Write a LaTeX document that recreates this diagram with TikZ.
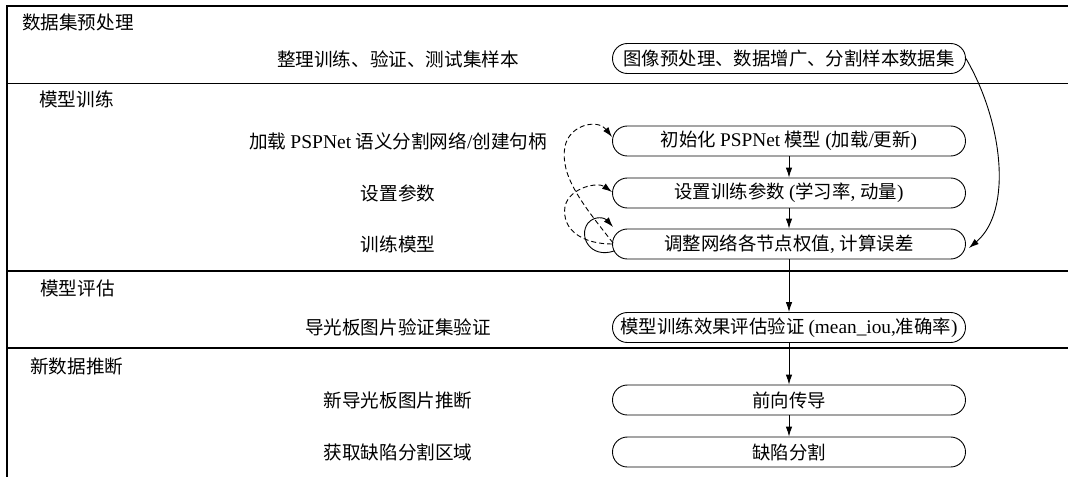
\documentclass[tikz,border=0pt]{standalone}
\usepackage{fontspec}
\setmainfont{Noto Sans CJK SC}
\newfontfamily\enf[Scale=1.05]{Liberation Serif}
\newcommand{\en}[1]{{\enf #1}}
\usetikzlibrary{arrows.meta,calc}
\begin{document}
\begin{tikzpicture}[x=1pt,y=-1pt,
  box/.style={draw, rounded corners=14.9pt, minimum width=353pt, minimum height=30pt, inner sep=0pt, font=\fontsize{18.4}{20}\selectfont, line width=0.9pt},
  lab/.style={font=\fontsize{18.6}{20}\selectfont, inner sep=0pt},
  sep/.style={line width=1.6pt},
  arr/.style={-{Latex[length=10pt,width=6.5pt]}, line width=0.9pt},
  darr/.style={arr, dash pattern=on 5pt off 3pt}]
\useasboundingbox (0,0) rectangle (1068,477);
% swimlane separators
\draw[sep] (7,6) -- (1068,6);
\draw[sep] (7,83.5) -- (1068,83.5);
\draw[sep] (7,271) -- (1068,271);
\draw[sep] (7,348) -- (1068,348);
\draw[sep] (7,5.2) -- (7,477);
% lane headings
\node[lab, anchor=west] (h1) at (22,22) {数据集预处理};
\node[lab, anchor=west] (h2) at (39,99) {模型训练};
\node[lab, anchor=west] (h3) at (40,288) {模型评估};
\node[lab, anchor=west] (h4) at (30,366) {新数据推断};
% step labels
\node[lab] (l1) at (398,59) {整理训练、验证、测试集样本};
\node[lab] (l2) at (398,141) {加载 \en{PSPNet} 语义分割网络\en{/}创建句柄};
\node[lab] (l3) at (398,193) {设置参数};
\node[lab] (l4) at (398,244) {训练模型};
\node[lab] (l5) at (398,327.5) {导光板图片验证集验证};
\node[lab] (l6) at (398,400) {新导光板图片推断};
\node[lab] (l7) at (398,452) {获取缺陷分割区域};
% boxes
\node[box] (b0) at (789,58.5) {图像预处理、数据增广、分割样本数据集};
\node[box] (b1) at (789,141) {初始化 \en{PSPNet} 模型 \en{(}加载\en{/}更新\en{)}};
\node[box] (b2) at (789,193) {设置训练参数 \en{(}学习率\en{, }动量\en{)}};
\node[box] (b3) at (789,244) {调整网络各节点权值\en{, }计算误差};
\node[box] (b4) at (789,327.5) {模型训练效果评估验证 \en{(mean\_iou,}准确率\en{)}};
\node[box] (b5) at (789,400) {前向传导};
\node[box] (b6) at (789,452) {缺陷分割};
% straight arrows
\draw[arr] (b1) -- (b2);
\draw[arr] (b2) -- (b3);
\draw[arr] (b3) -- (b4);
\draw[arr] (b4) -- (b5);
\draw[arr] (b5) -- (b6);
% curve from preprocessing to training
\draw[arr] (b0.east) .. controls ($(b0.east)+(37,63)$) and ($(b3.east)+(47,-33)$) .. ($(b3.east)+(3,4)$);
% dashed feedback loops
\draw[darr] ($(b3.west)+(1,-1)$) .. controls ($(b3.west)+(-28,-38)$) and ($(b3.west)+(-53,-68)$) .. ($(b3.west)+(-47,-98)$)
  .. controls ($(b1.west)+(-42,-17)$) and ($(b1.west)+(-14,-22)$) .. ($(b1.west)+(0,-4)$);
\draw[darr] (b3.west) .. controls ($(b3.west)+(-28,0)$) and ($(b3.west)+(-51,-13)$) .. ($(b3.west)+(-47,-38)$)
  .. controls ($(b2.west)+(-42,-6)$) and ($(b2.west)+(-14,-11)$) .. ($(b2.west)+(0,-1)$);
% solid self loop
\draw[arr] ($(b3.west)+(2,7)$) .. controls ($(b3.west)+(-22,15)$) and ($(b3.west)+(-34,-8)$) .. ($(b3.west)+(-24,-21)$)
  .. controls ($(b3.west)+(-17,-29)$) and ($(b3.west)+(-7,-26)$) .. ($(b3.west)+(1,-17)$);
\end{tikzpicture}
\end{document}
